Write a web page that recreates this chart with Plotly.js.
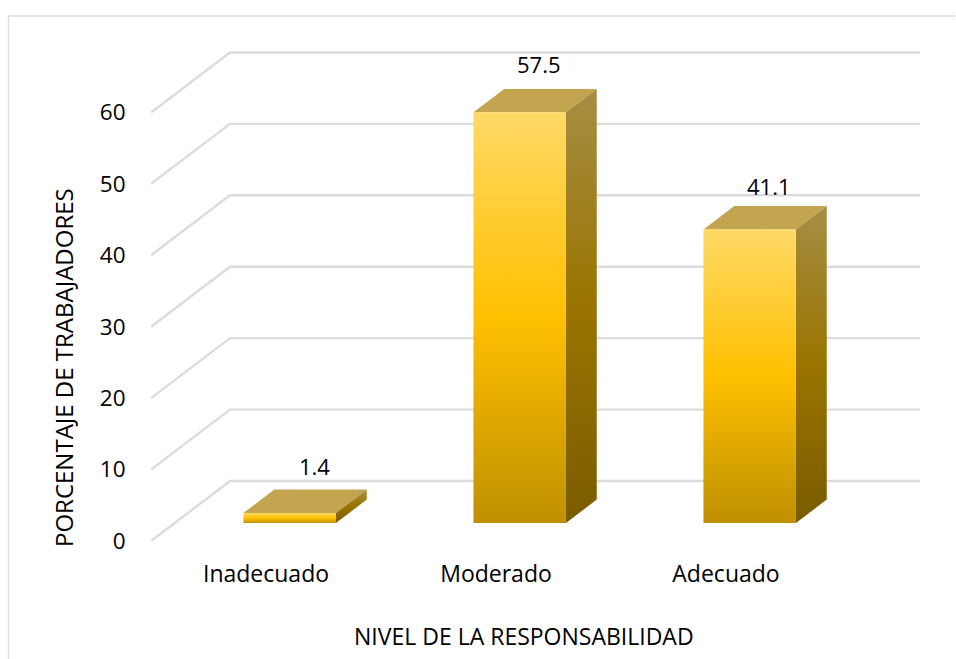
<!DOCTYPE html>
<html>
<head>
<meta charset="utf-8">
<script src="https://cdn.plot.ly/plotly-3.0.1.min.js"></script>
<style>html,body{margin:0;padding:0;background:#fff}</style>
</head>
<body>
<div id="chart" style="width:956px;height:659px"></div>
<script>
// Survey results: share of workers per responsibility level
const categories = ['Inadecuado', 'Moderado', 'Adecuado'];
const percentages = [1.4, 57.5, 41.1];
const yTicks = [0, 10, 20, 30, 40, 50, 60];
const labelLift = [24, 25, 20];
const labelDrift = [5, 0, 0];

// Oblique projection of the box chart: one unit of depth moves a point
// right along x and up along y, both in axis units.
const DEPTH_X = 79 / 230;
const DEPTH_Y = 60 / 7.145;
const BAR_WIDTH = 92.5 / 230;
const BAR_NEAR = 0.3;
const BAR_FAR = 0.69;

const project = (x, value, depth) => [x + depth * DEPTH_X, value + depth * DEPTH_Y];

function face(points, fillStyle) {
  const xy = points.map(p => project(p[0], p[1], p[2]));
  return Object.assign({
    type: 'scatter', mode: 'lines', fill: 'toself',
    x: xy.map(p => p[0]), y: xy.map(p => p[1]),
    line: {width: 0}, hoverinfo: 'skip', showlegend: false
  }, fillStyle);
}

const frontShade = {type: 'vertical', colorscale: [[0, '#BF9000'], [0.5, '#FFC000'], [1, '#FFD966']]};
const sideShade = {type: 'vertical', colorscale: [[0, '#7A5C00'], [0.5, '#997400'], [1, '#A68E44']]};

const traces = [];

// Wall gridlines with their slanted run across the floor side
yTicks.forEach(v => {
  const a = project(-0.5, v, 0), b = project(-0.5, v, 1), c = project(2.5, v, 1);
  traces.push({
    type: 'scatter', mode: 'lines', cliponaxis: false,
    x: [a[0], b[0], c[0]], y: [a[1], b[1], c[1]],
    line: {color: '#DCDCDC', width: 2.4}, hoverinfo: 'skip', showlegend: false
  });
});

// Each bar is three faces: top, side, front
percentages.forEach((v, i) => {
  const l = i - BAR_WIDTH / 2, r = i + BAR_WIDTH / 2;
  traces.push(face([[l, v, BAR_NEAR], [r, v, BAR_NEAR], [r, v, BAR_FAR], [l, v, BAR_FAR], [l, v, BAR_NEAR]],
    {fillcolor: '#C3A44F'}));
  traces.push(face([[r, 0, BAR_NEAR], [r, 0, BAR_FAR], [r, v, BAR_FAR], [r, v, BAR_NEAR], [r, 0, BAR_NEAR]],
    {fillgradient: sideShade}));
  traces.push(face([[l, 0, BAR_NEAR], [r, 0, BAR_NEAR], [r, v, BAR_NEAR], [l, v, BAR_NEAR], [l, 0, BAR_NEAR]],
    {fillgradient: frontShade}));
});

const FONT = '"Open Sans", sans-serif';
const W = 956, H = 659;
const M = {l: 151, r: 36, t: 41, b: 118};
const pw = W - M.l - M.r, ph = H - M.t - M.b;
const px = x => (x - M.l) / pw;
const py = y => (H - M.b - y) / ph;

const annotations = percentages.map((v, i) => {
  const p = project(i, v, 0.55);
  return {
    x: p[0], y: v + BAR_FAR * DEPTH_Y, xref: 'x', yref: 'y',
    text: String(v), showarrow: false, yanchor: 'middle', xanchor: 'center',
    yshift: labelLift[i], xshift: labelDrift[i],
    font: {family: FONT, size: 22, color: '#000'}
  };
});
annotations.push({
  x: px(524), y: py(636), xref: 'paper', yref: 'paper', showarrow: false,
  xanchor: 'center', yanchor: 'middle', text: 'NIVEL DE LA RESPONSABILIDAD',
  font: {family: FONT, size: 23, color: '#000'}
});
annotations.push({
  x: px(63), y: py(368), xref: 'paper', yref: 'paper', showarrow: false,
  xanchor: 'center', yanchor: 'middle', textangle: -90, text: 'PORCENTAJE DE TRABAJADORES',
  font: {family: FONT, size: 24, color: '#000'}
});

const layout = {
  width: W, height: H,
  margin: M,
  paper_bgcolor: '#fff', plot_bgcolor: 'rgba(0,0,0,0)',
  showlegend: false,
  xaxis: {
    type: 'linear', range: [-0.5, 2.5 + DEPTH_X],
    tickmode: 'array', tickvals: [0, 1, 2], ticktext: categories,
    showgrid: false, zeroline: false, showline: false,
    ticks: 'outside', ticklen: 12, tickcolor: 'rgba(0,0,0,0)',
    tickfont: {family: FONT, size: 23, color: '#000'}
  },
  yaxis: {
    range: [0, 70], tickmode: 'array', tickvals: yTicks,
    showgrid: false, zeroline: false, showline: false,
    ticks: 'outside', ticklen: 20, tickcolor: 'rgba(0,0,0,0)',
    tickfont: {family: FONT, size: 22.5, color: '#000'}
  },
  annotations,
  shapes: [{
    type: 'path', xref: 'paper', yref: 'paper', layer: 'below',
    path: `M ${px(8.5)} ${py(659)} L ${px(8.5)} ${py(16)} L ${px(955)} ${py(16)}`,
    line: {color: '#E0E0E0', width: 1.5}
  }]
};

Plotly.newPlot('chart', traces, layout, {displayModeBar: false, staticPlot: true});
</script>
</body>
</html>
